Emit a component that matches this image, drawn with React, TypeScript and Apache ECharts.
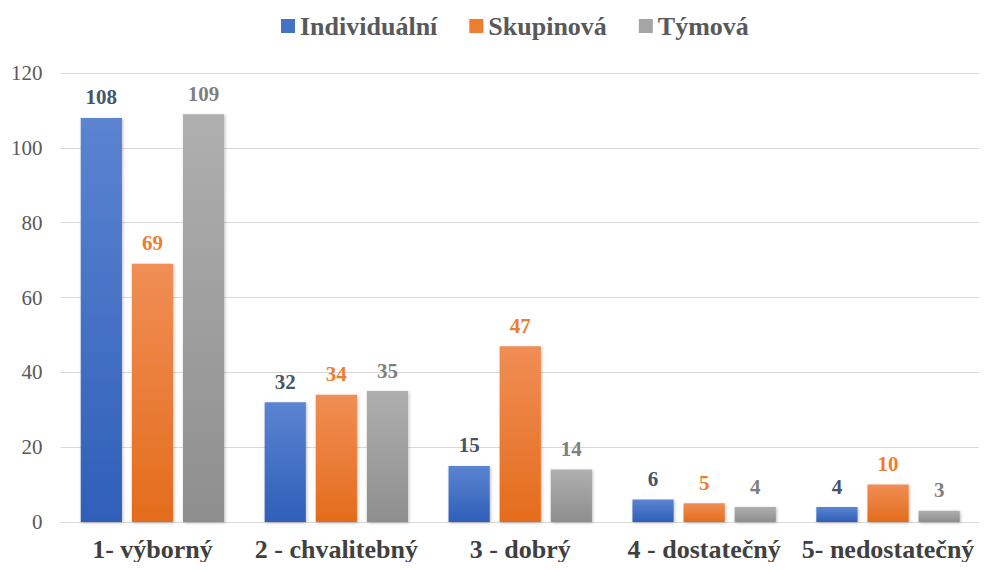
import React, { useEffect, useRef } from "react";
import * as echarts from "echarts";

const categories = ["1- výborný", "2 - chvalitebný", "3 - dobrý", "4 - dostatečný", "5- nedostatečný"];
const individualni = [108, 32, 15, 6, 4];
const skupinova = [69, 34, 47, 5, 10];
const tymova = [109, 35, 14, 4, 3];
const yTicks = { min: 0, max: 120, interval: 20 };

const FONT = "Liberation Serif, Times New Roman, serif";

function grad(top: string, bottom: string) {
  return new echarts.graphic.LinearGradient(0, 0, 0, 1, [
    { offset: 0, color: top },
    { offset: 1, color: bottom },
  ]);
}

export default function App() {
  const ref = useRef<HTMLDivElement>(null);
  useEffect(() => {
    if (!ref.current) return;
    const chart = echarts.init(ref.current, undefined, { renderer: "svg" });
    const mk = (name: string, data: number[], top: string, bottom: string, labelColor: string) => ({
      name,
      type: "bar",
      data,
      barGap: "24%",
      barCategoryGap: "22%",
      itemStyle: {
        color: grad(top, bottom),
        shadowColor: "rgba(0,0,0,0.25)",
        shadowBlur: 3,
        shadowOffsetX: 1,
        shadowOffsetY: 1,
      },
      label: {
        show: true,
        position: "top",
        distance: 10,
        color: labelColor,
        fontFamily: FONT,
        fontWeight: "bold",
        fontSize: 21,
      },
    });
    chart.setOption({
      animation: false,
      legend: {
        top: 0,
        left: 268,
        itemWidth: 14,
        itemHeight: 14,
        itemGap: 32,
        icon: "rect",
        textStyle: { fontFamily: FONT, fontWeight: "bold", fontSize: 26, color: "#595959" },
        data: [
          { name: "Individuální", itemStyle: { color: "#4472C4" } },
          { name: "Skupinová", itemStyle: { color: "#ED7D31" } },
          { name: "Týmová", itemStyle: { color: "#A5A5A5" } },
        ],
      },
      grid: { left: 52, right: 7, top: 65, bottom: 24, containLabel: false },
      xAxis: {
        type: "category",
        data: categories,
        axisLine: { lineStyle: { color: "#D9D9D9", width: 1 } },
        axisTick: { show: false },
        axisLabel: {
          fontFamily: FONT,
          fontWeight: "bold",
          fontSize: 26,
          color: "#404040",
          margin: 14,
          interval: 0,
        },
      },
      yAxis: {
        type: "value",
        min: yTicks.min,
        max: yTicks.max,
        interval: yTicks.interval,
        axisLine: { show: false },
        axisTick: { show: false },
        splitLine: { lineStyle: { color: "#D9D9D9", width: 1 } },
        axisLabel: { fontFamily: FONT, fontSize: 21, color: "#595959", margin: 18 },
      },
      series: [
        mk("Individuální", individualni, "#5B84D1", "#2F5FB9", "#44546A"),
        mk("Skupinová", skupinova, "#F08E55", "#E46C1C", "#ED7D31"),
        mk("Týmová", tymova, "#AFAFAF", "#8E8E8E", "#7F7F7F"),
      ],
    });
    return () => chart.dispose();
  }, []);
  return <div ref={ref} style={{ width: 979, height: 554 }} />;
}
